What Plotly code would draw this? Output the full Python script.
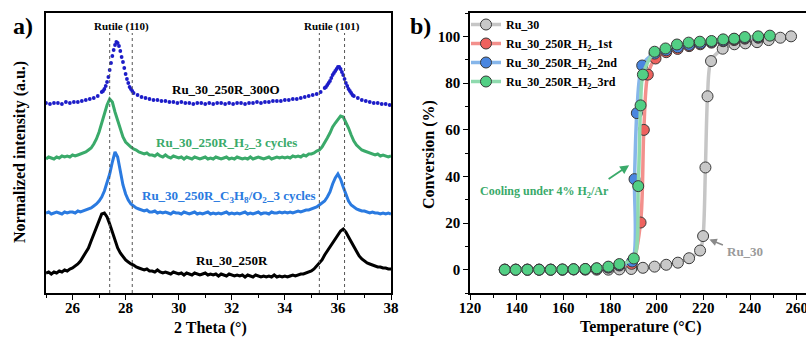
import numpy as np
import plotly.graph_objects as go

# ---------------- data: panel a (XRD) ----------------
theta_grid = np.round(np.arange(25.0, 38.001, 0.1), 2)
theta_dots = np.round(np.concatenate([
    np.arange(25.00, 27.101, 0.15),
    np.arange(27.15, 28.301, 0.05),
    np.arange(28.45, 35.501, 0.15),
    np.arange(35.55, 36.601, 0.05),
    np.arange(36.75, 37.951, 0.15),
]), 2)

ru30_250R = [20,21,19,21,20,22,21,23,22,24,
             25,27,29,32,36,40,45,52,59,66,
             74,79,80,76,69,61,52,45,40,36,
             33,31,29,28,26,25,24,23,24,22,
             22,21,23,21,20,21,20,19,21,20,
             19,20,18,20,19,18,20,19,18,19,
             20,18,19,18,19,17,19,18,17,19,
             18,17,18,17,18,16,18,17,16,18,
             17,16,17,16,17,16,18,16,17,16,
             17,16,17,18,17,18,19,19,20,21,
             22,24,27,30,33,38,42,46,50,55,
             59,62,64,61,56,51,46,41,37,34,
             32,30,29,28,27,26,26,25,25,24,
             24]

ru30_c3h8 = [80,81,79,80,81,80,79,81,80,81,
             81,80,82,81,82,83,84,85,87,89,
             92,96,102,110,119,131,141,136,121,108,
             99,93,89,87,85,84,83,82,83,81,
             81,82,80,81,80,81,80,79,81,80,
             80,79,81,80,79,80,81,79,80,79,
             80,81,79,80,79,80,79,80,81,79,
             80,79,80,79,80,81,79,80,79,80,
             81,79,80,80,79,81,80,80,81,80,
             81,80,81,80,81,82,81,82,83,83,
             84,85,86,88,90,92,96,101,109,115,
             119,114,106,98,92,88,86,84,83,82,
             82,81,80,81,80,80,79,80,79,80,
             79]

ru30_h2 = [134,136,135,134,136,135,137,136,137,136,
           138,137,138,139,140,141,143,145,149,154,
           161,170,180,188,194,191,181,172,163,156,
           151,148,146,144,143,141,140,139,140,138,
           138,137,139,137,136,138,136,135,137,136,
           135,136,134,136,135,134,136,135,134,135,
           136,134,135,134,136,135,134,135,136,134,
           135,134,136,135,134,135,134,136,134,135,
           136,135,134,135,136,134,135,136,135,136,
           135,136,135,137,136,137,136,138,137,139,
           139,140,142,143,146,150,155,160,166,170,
           174,177,176,171,165,158,152,148,145,143,
           142,141,140,139,138,139,137,138,137,136,
           137]

ru30_300O = [190,189,190,190,189,191,190,191,191,192,193,194,195,197,201,
             202,204,207,211,216,223,230,237,243,248,251,250,247,242,236,
             231,225,219,214,210,206,204,202,200,
             198,196,195,194,193,193,192,192,191,191,190,191,190,190,189,190,
             190,189,190,189,190,190,189,190,189,190,190,189,190,190,191,190,
             191,191,192,192,192,193,193,194,194,195,196,197,198,199,201,205,
             206,208,210,212,215,218,220,222,224,226,226,224,221,218,214,210,
             207,204,202,200,198,197,
             195,193,192,191,190,190,189,189,188]

rutile_lines = [27.4, 28.25, 35.3, 36.25]

# ---------------- data: panel b (conversion) ----------------
T_gray = [169.4, 174.3, 179.3, 184.0, 189.1, 194.1, 199.1, 204.1, 209.1, 213.9,
          218.6, 219.9, 220.9, 221.8, 223.3, 228.3, 233.3, 238.0, 243.0, 248.0,
          253.0, 257.6]
C_gray = [0.0, 0.0, 0.0, 0.1, 0.3, 0.8, 1.3, 2.1, 3.0, 4.9,
          8.2, 14.4, 43.8, 74.3, 89.4, 94.7, 96.6, 97.0, 97.5, 98.4,
          99.4, 100.0]

T_low = [134.9, 139.6, 144.6, 149.6, 154.6, 159.6, 164.4, 169.4, 174.3, 179.3, 184.0]

T_red = T_low + [189.3, 193.1, 194.5, 196.2, 199.5, 204.1, 209.0, 213.9, 218.7,
                 223.5, 228.5, 233.2, 237.8, 243.5]
C_red = [0, 0, 0, 0, 0, 0, 0.1, 0.2, 0.4, 0.9, 1.8,
         2.5, 20.2, 59.9, 83.6, 90.5, 93.2, 94.6, 95.8, 96.6,
         97.3, 97.9, 98.4, 99.0, 99.4]

T_blue = T_low + [189.5, 190.5, 191.5, 193.8, 199.1, 204.1, 209.0, 213.9, 218.7,
                  223.5, 228.5, 233.2, 237.8, 243.5]
C_blue = [0, 0, 0, 0, 0, 0, 0.1, 0.2, 0.5, 1.0, 2.0,
          3.5, 38.8, 67.1, 87.5, 92.6, 94.0, 95.3, 96.3, 97.0,
          97.6, 98.2, 98.8, 99.3, 99.6]

T_green = T_low + [190.2, 192.1, 193.1, 194.1, 199.1, 203.8, 208.7, 213.7, 218.5,
                   223.5, 228.5, 233.2, 237.8, 243.5, 248.5]
C_green = [0, 0, 0, 0, 0, 0.1, 0.2, 0.3, 0.6, 1.3, 2.4,
           4.8, 35.8, 70.4, 83.6, 93.4, 94.8, 96.5, 97.3, 97.7,
           98.0, 98.7, 99.0, 99.7, 100.0, 100.3]

# ---------------- figure ----------------
W, H = 806, 338
SERIF = "Liberation Serif"

def px(xp):
    return xp / W

def py(yp):
    return 1 - yp / H

fig = go.Figure()

# Panel a traces
fig.add_trace(go.Scatter(x=theta_grid, y=ru30_250R, mode="lines",
                         line=dict(color="black", width=3), showlegend=False,
                         xaxis="x", yaxis="y"))
fig.add_trace(go.Scatter(x=theta_grid, y=ru30_c3h8, mode="lines",
                         line=dict(color="#2a7ae0", width=3), showlegend=False,
                         xaxis="x", yaxis="y"))
fig.add_trace(go.Scatter(x=theta_grid, y=ru30_h2, mode="lines",
                         line=dict(color="#3aaa6a", width=3), showlegend=False,
                         xaxis="x", yaxis="y"))
fig.add_trace(go.Scatter(x=theta_dots, y=ru30_300O, mode="markers",
                         marker=dict(color="#1c1cc8", size=3.8), showlegend=False,
                         xaxis="x", yaxis="y"))

# Panel b traces
series_b = [
    ("Ru_30", T_gray, C_gray, "#c6c6c6", "#c8c8c8"),
    ("Ru_30_250R_H<sub>2</sub>_1st", T_red, C_red, "#f3908c", "#ee625e"),
    ("Ru_30_250R_H<sub>2</sub>_2nd", T_blue, C_blue, "#86b6ea", "#4a86e0"),
    ("Ru_30_250R_H<sub>2</sub>_3rd", T_green, C_green, "#8fdaae", "#52cf84"),
]
for name, tx, cy, lc, mc in series_b:
    fig.add_trace(go.Scatter(x=tx, y=cy, mode="lines+markers", name=name,
                             line=dict(color=lc, width=3.5, shape="spline", smoothing=0.8),
                             marker=dict(color=mc, size=11, line=dict(color="#3a3a3a", width=1)),
                             xaxis="x2", yaxis="y2"))

tickfont = dict(family=SERIF, size=15, color="black", weight="bold")
axis_common = dict(showline=True, linecolor="black", linewidth=1.6, showgrid=False,
                   zeroline=False, ticks="outside", tickcolor="black", tickwidth=1.4,
                   ticklen=5, tickfont=tickfont, automargin=False)
minor_ticks = dict(ticklen=3, ticks="outside", tickcolor="black", tickwidth=1.2)

fig.update_layout(
    width=W, height=H,
    margin=dict(l=0, r=0, t=0, b=0, pad=0, autoexpand=False),
    paper_bgcolor="white", plot_bgcolor="white",
    font=dict(family=SERIF, color="black"),
    xaxis=dict(domain=[px(46), px(391)], range=[25, 38], tick0=26, dtick=2,
               mirror=True, anchor="y", minor=dict(dtick=1, **minor_ticks),
               ticklabelstandoff=-5, ticklabeloverflow="allow", **axis_common),
    yaxis=dict(domain=[py(293), py(13)], range=[0, 280], showticklabels=False,
               anchor="x", **{**axis_common, "ticks": "", "mirror": True}),
    xaxis2=dict(domain=[px(470), 1.0], range=[120, 264], tick0=120, dtick=20,
                mirror=True, anchor="y2", minor=dict(dtick=10, **minor_ticks),
                ticklabelstandoff=-5, ticklabeloverflow="allow", **axis_common),
    yaxis2=dict(domain=[py(293), py(13)], range=[-10, 110], tick0=0, dtick=20,
                anchor="x2", minor=dict(dtick=10, **minor_ticks),
                **axis_common),
    legend=dict(x=px(466), y=py(10), xanchor="left", yanchor="top",
                bgcolor="rgba(0,0,0,0)", itemwidth=30, tracegroupgap=0,
                font=dict(family=SERIF, size=12, color="black", weight="bold")),
)

# dotted reference lines
for xv in rutile_lines:
    fig.add_shape(type="line", xref="x", yref="y", x0=xv, x1=xv, y0=0, y1=260,
                  line=dict(color="#555555", width=1, dash="dot"))

ann = []
def text(xv, yv, s, size, color="black", xref="x", yref="y", **kw):
    ann.append(dict(x=xv, y=yv, xref=xref, yref=yref, text=s, showarrow=False,
                    xanchor="center", yanchor="middle",
                    font=dict(family=SERIF, size=size, color=color, weight="bold"), **kw))

text(27.85, 266, "Rutile (110)", 11)
text(35.78, 266, "Rutile (101)", 11)
text(31.8, 203, "Ru_30_250R_300O", 13)
text(31.8, 150, "Ru_30_250R_H<sub>2</sub>_3 cycles", 13, color="#3aaa6a")
text(31.9, 97, "Ru_30_250R_C<sub>3</sub>H<sub>8</sub>/O<sub>2</sub>_3 cycles", 13, color="#2a7ae0")
text(32.0, 33, "Ru_30_250R", 13)

# panel labels and axis titles (paper coordinates)
text(px(23), py(26), "a)", 24, xref="paper", yref="paper")
text(px(420), py(26), "b)", 24, xref="paper", yref="paper")
text(px(210), py(328), "2 Theta (°)", 16, xref="paper", yref="paper")
text(px(640), py(327), "Temperature (°C)", 16, xref="paper", yref="paper")
text(px(20), py(152), "Normalized intensity (a.u.)", 16, xref="paper", yref="paper", textangle=-90)
text(px(429), py(155), "Conversion (%)", 16, xref="paper", yref="paper", textangle=-90)

# panel b annotations
text(152.0, 33.5, "Cooling under 4% H<sub>2</sub>/Ar", 12, color="#3aaa6a", xref="x2", yref="y2")
text(238.0, 7.9, "Ru_30", 13, color="#9a9a9a", xref="x2", yref="y2")

ann.append(dict(x=188.2, y=44.8, xref="x2", yref="y2", ax=-22, ay=15, showarrow=True,
                arrowhead=2, arrowsize=1, arrowwidth=1.8, arrowcolor="#3aaa6a", text=""))
ann.append(dict(x=222.6, y=12.9, xref="x2", yref="y2", ax=15, ay=6, showarrow=True,
                arrowhead=2, arrowsize=1, arrowwidth=1.5, arrowcolor="#8a8a8a", text=""))

fig.update_layout(annotations=ann)
fig.write_html("out.html", config={"displayModeBar": False},
               post_script="document.body.style.margin='0px';document.body.style.overflow='hidden';")
